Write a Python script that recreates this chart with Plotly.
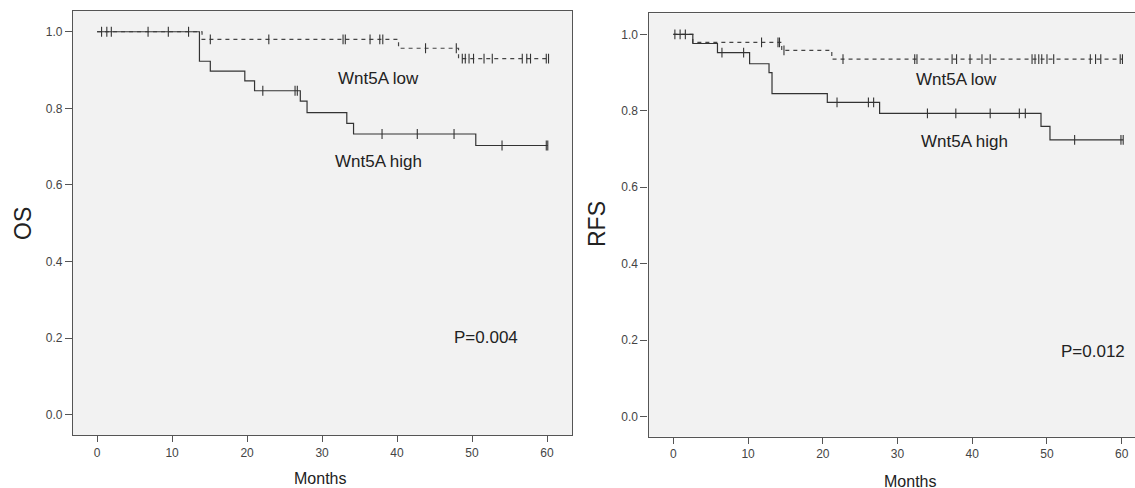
import plotly.graph_objects as go

W, H = 1135, 488

# ---------------- data ----------------
months_ticks = [0, 10, 20, 30, 40, 50, 60]
surv_ticks = [0.0, 0.2, 0.4, 0.6, 0.8, 1.0]
surv_tick_text = ["0.0", "0.2", "0.4", "0.6", "0.8", "1.0"]

# OS, Wnt5A low (dashed)
os_low_t = [0, 14.0, 40.2, 48.2, 60.2]
os_low_s = [1.0, 0.980, 0.957, 0.930, 0.930]
os_low_cens = [0.6, 1.3, 1.9, 6.8, 9.5, 12.2, 15.1, 22.9, 32.8, 33.1, 36.4, 37.7, 38.1,
               43.8, 47.9, 48.7, 49.1, 49.6, 50.2, 51.6, 52.7, 56.7, 57.3, 57.8, 59.9, 60.2]
# OS, Wnt5A high (solid)
os_high_t = [0, 13.65, 15.1, 19.7, 21.0, 27.1, 28.0, 33.3, 34.2, 50.5, 60.1]
os_high_s = [1.0, 0.923, 0.897, 0.872, 0.846, 0.819, 0.789, 0.761, 0.733, 0.703, 0.703]
os_high_cens = [22.1, 26.4, 26.7, 38.0, 42.7, 47.6, 54.0, 59.9, 60.1]

# RFS, Wnt5A low (dashed)
rfs_low_t = [0, 2.6, 14.5, 21.2, 60.1]
rfs_low_s = [1.0, 0.979, 0.958, 0.935, 0.935]
rfs_low_cens = [0.2, 0.9, 1.6, 11.8, 14.0, 14.2, 14.8, 22.7, 32.3, 32.6, 37.3, 37.9, 39.7,
                41.3, 42.4, 48.0, 48.4, 48.9, 49.3, 50.0, 50.9, 55.8, 56.5, 57.2, 59.8, 60.1]
# RFS, Wnt5A high (solid)
rfs_high_t = [0, 2.6, 5.9, 10.2, 12.8, 13.2, 20.6, 27.6, 49.2, 50.4, 60.2]
rfs_high_s = [1.0, 0.976, 0.952, 0.923, 0.900, 0.845, 0.822, 0.793, 0.759, 0.724, 0.724]
rfs_high_cens = [6.5, 9.4, 21.9, 26.1, 26.8, 34.0, 37.8, 42.4, 46.3, 47.1, 53.7, 59.9, 60.2]

group_labels = ["Wnt5A low", "Wnt5A high"]
p_values = ["P=0.004", "P=0.012"]
y_titles = ["OS", "RFS"]
x_title = "Months"


def step_at(ts, ss, t):
    v = ss[0]
    for ti, si in zip(ts, ss):
        if ti <= t:
            v = si
    return v


LINE = "#333333"
FONT = "Liberation Sans, Arial, sans-serif"

fig = go.Figure()


def add_panel(xa, ya, low_t, low_s, low_c, high_t, high_s, high_c):
    fig.add_trace(go.Scatter(x=low_t, y=low_s, mode="lines", line_shape="hv",
                             line=dict(color="#444444", width=1.2, dash="4px,4px"),
                             xaxis=xa, yaxis=ya, showlegend=False, hoverinfo="skip"))
    fig.add_trace(go.Scatter(x=high_t, y=high_s, mode="lines", line_shape="hv",
                             line=dict(color=LINE, width=1.2),
                             xaxis=xa, yaxis=ya, showlegend=False, hoverinfo="skip"))
    for ts, ss, cs in ((low_t, low_s, low_c), (high_t, high_s, high_c)):
        fig.add_trace(go.Scatter(x=cs, y=[step_at(ts, ss, c) for c in cs], mode="markers",
                                 marker=dict(symbol="line-ns", size=7,
                                             line=dict(color=LINE, width=1.1)),
                                 xaxis=xa, yaxis=ya, showlegend=False, hoverinfo="skip"))


add_panel("x", "y", os_low_t, os_low_s, os_low_cens, os_high_t, os_high_s, os_high_cens)
add_panel("x2", "y2", rfs_low_t, rfs_low_s, rfs_low_cens, rfs_high_t, rfs_high_s, rfs_high_cens)


def px(x):
    return min(1.0, x / W)


def py(y):
    return 1 - y / H


common_x = dict(tickvals=months_ticks, ticks="outside", ticklen=6, tickcolor="#555",
                showline=True, linecolor="#555", linewidth=1.2, mirror=True,
                showgrid=False, zeroline=False,
                tickfont=dict(family=FONT, size=12, color="#444"))
common_y = dict(tickvals=surv_ticks, ticktext=surv_tick_text, ticks="outside", ticklen=7,
                tickcolor="#555", showline=True, linecolor="#555", linewidth=1.2,
                showgrid=False, zeroline=False, range=[-0.053, 1.055],
                tickfont=dict(family=FONT, size=12, color="#444"))

fig.update_layout(
    width=W, height=H,
    margin=dict(l=0, r=0, t=0, b=0),
    paper_bgcolor="white", plot_bgcolor="#f2f2f2",
    xaxis=dict(domain=[px(73), px(572)], range=[-3.21, 63.33], anchor="y", **common_x),
    yaxis=dict(domain=[py(435), py(10.7)], anchor="x", mirror=True, **common_y),
    xaxis2=dict(domain=[px(648.5), 1.0], range=[-3.33, 61.78], anchor="y2", **common_x),
    yaxis2=dict(domain=[py(436.7), py(13.3)], anchor="x2", mirror=False, **common_y),
)

ann = []
for xr, yr, lx, ly, hx, hy, pxv, pyv, ptxt in (
        ("x", "y", 37.5, 0.877, 37.5, 0.661, 51.9, 0.202, p_values[0]),
        ("x2", "y2", 37.9, 0.881, 38.9, 0.720, 56.2, 0.171, p_values[1])):
    for tx, ty, txt in ((lx, ly, group_labels[0]), (hx, hy, group_labels[1]), (pxv, pyv, ptxt)):
        ann.append(dict(x=tx, y=ty, xref=xr, yref=yr, text=txt, showarrow=False,
                        xanchor="center", yanchor="middle",
                        font=dict(family=FONT, size=17, color="#222")))

title_font = dict(family=FONT, color="#222")
ann.append(dict(x=px(23), y=py(224), xref="paper", yref="paper", text=y_titles[0],
                textangle=-90, showarrow=False, xanchor="center", yanchor="middle",
                font=dict(size=23, **title_font)))
ann.append(dict(x=px(597), y=py(224), xref="paper", yref="paper", text=y_titles[1],
                textangle=-90, showarrow=False, xanchor="center", yanchor="middle",
                font=dict(size=23, **title_font)))
ann.append(dict(x=px(320), y=py(478), xref="paper", yref="paper", text=x_title,
                showarrow=False, xanchor="center", yanchor="middle",
                font=dict(size=16, **title_font)))
ann.append(dict(x=px(910), y=py(481), xref="paper", yref="paper", text=x_title,
                showarrow=False, xanchor="center", yanchor="middle",
                font=dict(size=16, **title_font)))
fig.update_layout(annotations=ann)

fig.write_html("out.html",
               config={"displayModeBar": False},
               post_script="document.body.style.margin='0';"
                           "document.body.style.overflow='hidden';")
